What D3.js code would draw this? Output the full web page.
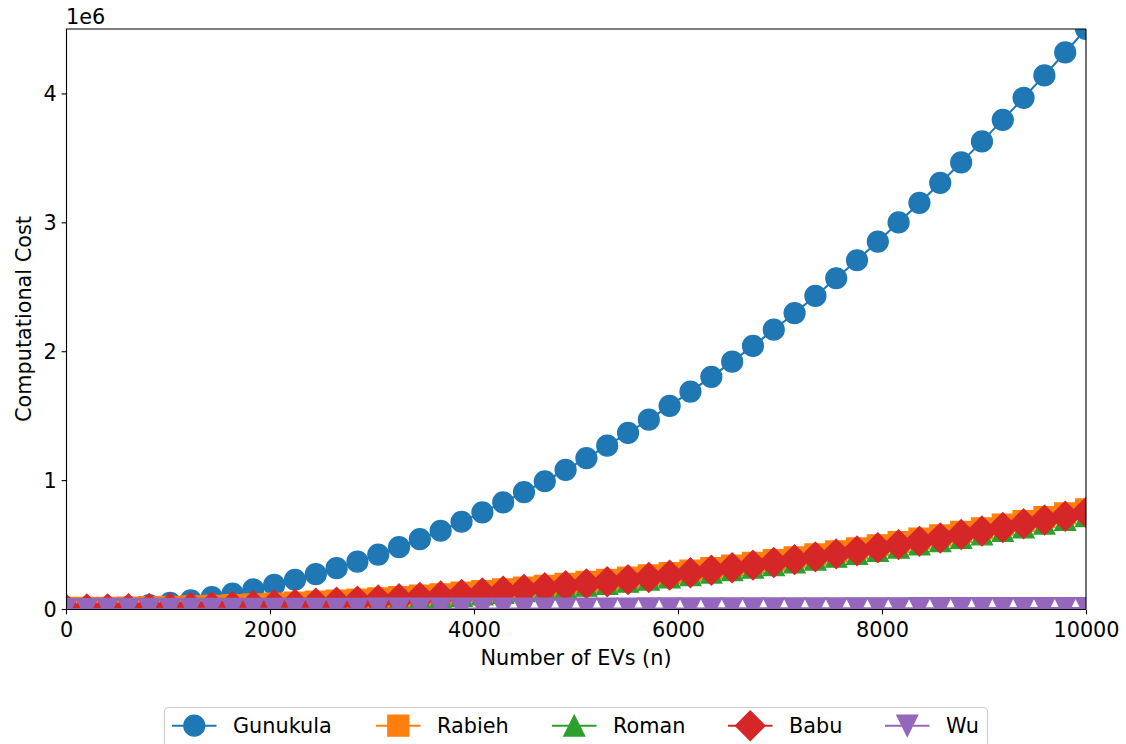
<!DOCTYPE html>
<html>
<head>
<meta charset="utf-8">
<script src="https://cdn.jsdelivr.net/npm/d3@7"></script>
<style>
  body { margin: 0; background: #fff; }
  svg text { font-family: "DejaVu Sans", sans-serif; fill: #000; }
</style>
</head>
<body>
<div id="chart"></div>
<script>
// number of EVs
var nValues = [0, 204, 408, 612, 816, 1020, 1224, 1429, 1633, 1837, 2041, 2245, 2449, 2653, 2857,
  3061, 3265, 3469, 3673, 3878, 4082, 4286, 4490, 4694, 4898, 5102, 5306, 5510, 5714, 5918,
  6122, 6327, 6531, 6735, 6939, 7143, 7347, 7551, 7755, 7959, 8163, 8367, 8571, 8776, 8980,
  9184, 9388, 9592, 9796, 10000];

var gunukula = [0, 2000, 7500, 17000, 30000, 47000, 67000, 92000, 120000, 152000, 187000, 227000,
  270000, 317000, 367000, 422000, 480000, 542000, 607000, 677000, 750000, 827000, 907000, 991000,
  1080000, 1171000, 1267000, 1366000, 1469000, 1576000, 1687000, 1801000, 1919000, 2041000,
  2167000, 2296000, 2429000, 2566000, 2706000, 2851000, 2999000, 3151000, 3306000, 3465000,
  3628000, 3795000, 3966000, 4140000, 4318000, 4500000];

var rabieh = [8000, 8600, 9800, 11700, 14200, 17300, 21000, 25400, 30400, 36000, 42200, 49100,
  56600, 64700, 73400, 82800, 92800, 103400, 114600, 126500, 139000, 152100, 165800, 180100,
  195200, 210700, 227000, 243800, 261300, 279400, 298100, 317500, 337500, 358100, 379300,
  401200, 423600, 446700, 470500, 494800, 519800, 545400, 571600, 598500, 625900, 654000,
  682800, 712100, 742100, 772700];

var roman = [0, 0, 0, 1000, 2600, 4800, 7600, 11100, 15200, 19900, 25200, 31200, 37800, 45000,
  52800, 61300, 70400, 80100, 90400, 101400, 113000, 125200, 138000, 151400, 165600, 180200,
  195600, 211500, 228100, 245300, 263100, 281600, 300700, 320400, 340700, 361700, 383200,
  405400, 428300, 451700, 475800, 500500, 525800, 551800, 578300, 605500, 633400, 661800,
  690900, 720600];

var babu = [0, 300, 1200, 2800, 5000, 7800, 11200, 15300, 20000, 25300, 31200, 37800, 45000,
  52800, 61200, 70300, 80000, 90300, 101200, 112800, 125000, 137800, 151200, 165200, 180000,
  195200, 211200, 227700, 244900, 262700, 281100, 300200, 319900, 340200, 361100, 382700,
  404800, 427600, 451100, 475100, 499800, 525100, 551000, 577600, 604700, 632500, 661000,
  690000, 719700, 750000];

var wu = [0, 150, 300, 450, 600, 750, 900, 1050, 1200, 1350, 1500, 1650, 1800, 1950, 2100, 2250,
  2400, 2550, 2700, 2850, 3000, 3150, 3300, 3450, 3600, 3750, 3900, 4050, 4200, 4350, 4500,
  4650, 4800, 4950, 5100, 5250, 5400, 5550, 5700, 5850, 6000, 6150, 6300, 6450, 6600, 6750,
  6900, 7050, 7200, 7350];

var seriesNames = ["Gunukula", "Rabieh", "Roman", "Babu", "Wu"];
var seriesColors = ["#1f77b4", "#ff7f0e", "#2ca02c", "#d62728", "#9467bd"];
var seriesMarkers = ["circle", "square", "triangleUp", "diamond", "triangleDown"];
var seriesData = [gunukula, rabieh, roman, babu, wu];

var xTicks = [0, 2000, 4000, 6000, 8000, 10000];
var yTicks = [0, 1e6, 2e6, 3e6, 4e6];

var svgWidth = 1126, svgHeight = 744;
var plotLeft = 66, plotRight = 1086, plotTop = 29, plotBottom = 609;
var fs = 20.8;      // font size px
var ms = 20.8;      // marker size px
var lw = 2.08;

var svg = d3.select("#chart").append("svg")
  .attr("width", svgWidth)
  .attr("height", svgHeight);

var x = d3.scaleLinear().domain([0, 10000]).range([plotLeft, plotRight]);
var y = d3.scaleLinear().domain([0, 4.5e6]).range([plotBottom, plotTop]);

svg.append("defs").append("clipPath").attr("id", "plotclip")
  .append("rect")
  .attr("x", plotLeft).attr("y", plotTop)
  .attr("width", plotRight - plotLeft).attr("height", plotBottom - plotTop);

function markerPath(type, s) {
  var h = s / 2;
  if (type == "circle") {
    return "M" + (-h) + ",0A" + h + "," + h + " 0 1,0 " + h + ",0A" + h + "," + h + " 0 1,0 " + (-h) + ",0Z";
  }
  if (type == "square") {
    return "M" + (-h) + "," + (-h) + "H" + h + "V" + h + "H" + (-h) + "Z";
  }
  if (type == "triangleUp") {
    return "M0," + (-h) + "L" + h + "," + h + "L" + (-h) + "," + h + "Z";
  }
  if (type == "triangleDown") {
    return "M0," + h + "L" + h + "," + (-h) + "L" + (-h) + "," + (-h) + "Z";
  }
  if (type == "diamond") {
    var d = h * Math.SQRT2;
    return "M0," + (-d) + "L" + d + ",0L0," + d + "L" + (-d) + ",0Z";
  }
}

var plot = svg.append("g").attr("clip-path", "url(#plotclip)");

var line = d3.line()
  .x(function(d) { return x(d[0]); })
  .y(function(d) { return y(d[1]); });

seriesData.forEach(function(vals, k) {
  var pts = nValues.map(function(n, i) { return [n, vals[i]]; });
  var g = plot.append("g");
  g.append("path")
    .datum(pts)
    .attr("d", line)
    .attr("fill", "none")
    .attr("stroke", seriesColors[k])
    .attr("stroke-width", lw);
  g.selectAll("path.mk")
    .data(pts)
    .enter()
    .append("path")
    .attr("class", "mk")
    .attr("d", markerPath(seriesMarkers[k], ms))
    .attr("transform", function(d) { return "translate(" + x(d[0]) + "," + y(d[1]) + ")"; })
    .attr("fill", seriesColors[k])
    .attr("stroke", seriesColors[k])
    .attr("stroke-width", 1.39);
});

// spines
svg.append("line").attr("x1", plotLeft).attr("x2", plotRight).attr("y1", plotTop).attr("y2", plotTop)
  .attr("stroke", "#000").attr("stroke-width", 1.11);
svg.append("line").attr("x1", plotRight).attr("x2", plotRight).attr("y1", plotTop).attr("y2", plotBottom)
  .attr("stroke", "#000").attr("stroke-width", 1.11);
svg.append("line").attr("x1", plotLeft + 0.5).attr("x2", plotLeft + 0.5).attr("y1", plotTop).attr("y2", plotBottom + 0.5)
  .attr("stroke", "#000").attr("stroke-width", 1.11);
svg.append("line").attr("x1", plotLeft).attr("x2", plotRight).attr("y1", plotBottom + 0.5).attr("y2", plotBottom + 0.5)
  .attr("stroke", "#000").attr("stroke-width", 1.11);

// axes
var xAxis = d3.axisBottom(x).tickValues(xTicks).tickSize(4.86).tickPadding(4.86)
  .tickFormat(d3.format("d"));
var gx = svg.append("g").attr("transform", "translate(0," + (plotBottom + 0.5) + ")").call(xAxis);
gx.select(".domain").remove();
gx.selectAll(".tick line").attr("stroke", "#000").attr("stroke-width", 1.11);
gx.selectAll(".tick text").attr("font-size", fs).attr("font-family", "DejaVu Sans")
  .attr("dy", null).attr("y", 27.5);

var yAxis = d3.axisLeft(y).tickValues(yTicks).tickSize(4.86).tickPadding(4.86)
  .tickFormat(function(d) { return d / 1e6; });
var gy = svg.append("g").attr("transform", "translate(" + (plotLeft + 0.5) + ",0)").call(yAxis);
gy.select(".domain").remove();
gy.selectAll(".tick line").attr("stroke", "#000").attr("stroke-width", 1.11);
gy.selectAll(".tick text").attr("font-size", fs).attr("font-family", "DejaVu Sans")
  .attr("dy", "0.36em");

svg.append("text").attr("x", plotLeft).attr("y", 24).attr("font-size", fs).text("1e6");

svg.append("text")
  .attr("transform", "translate(31," + ((plotTop + plotBottom) / 2) + ") rotate(-90)")
  .attr("text-anchor", "middle")
  .attr("font-size", fs)
  .text("Computational Cost");

svg.append("text")
  .attr("x", (plotLeft + plotRight) / 2).attr("y", 665)
  .attr("text-anchor", "middle")
  .attr("font-size", fs)
  .text("Number of EVs (n)");

// legend
var legend = svg.append("g");
legend.append("rect")
  .attr("x", 164.5).attr("y", 707.5)
  .attr("width", 823).attr("height", 60).attr("rx", 4).attr("ry", 4)
  .attr("fill", "#fff").attr("fill-opacity", 0.8)
  .attr("stroke", "#cccccc").attr("stroke-width", 1.1);

var legendStarts = [172, 376, 552, 728, 885];
var ly = 725.7, handleLen = 44.5;
seriesNames.forEach(function(name, k) {
  var lx = legendStarts[k];
  var item = legend.append("g");
  item.append("line")
    .attr("x1", lx).attr("x2", lx + handleLen).attr("y1", ly).attr("y2", ly)
    .attr("stroke", seriesColors[k]).attr("stroke-width", lw);
  item.append("path")
    .attr("d", markerPath(seriesMarkers[k], ms))
    .attr("transform", "translate(" + (lx + handleLen / 2) + "," + ly + ")")
    .attr("fill", seriesColors[k])
    .attr("stroke", seriesColors[k])
    .attr("stroke-width", 1.39);
  item.append("text")
    .attr("x", lx + 61).attr("y", 733)
    .attr("font-size", fs)
    .text(name);
});
</script>
</body>
</html>
